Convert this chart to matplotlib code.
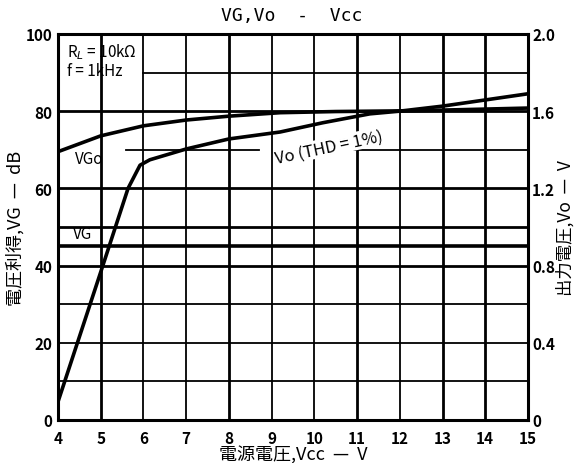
import matplotlib
matplotlib.use("Agg")
import matplotlib.pyplot as plt

plt.rcParams['font.family'] = ['Noto Sans CJK JP', 'DejaVu Sans']

# supply voltage (V) and curves read in dB on the left scale
vcc_vgo = [4.0, 5.0, 6.0, 7.0, 8.0, 9.2, 10.5, 12.3, 13.5, 15.0]
vgo_db = [69.5, 73.6, 76.2, 77.7, 78.7, 79.6, 79.9, 80.1, 80.4, 80.8]

vcc_vo = [4.0, 5.05, 5.64, 5.92, 6.15, 7.0, 8.0, 9.2, 10.2, 11.3, 12.0, 13.0, 14.0, 15.0]
vo_db = [4.7, 40.0, 60.0, 66.0, 67.4, 70.2, 72.8, 74.6, 77.0, 79.3, 80.0, 81.3, 82.9, 84.5]

vg_db = 45.0  # closed-loop gain

x_ticks = list(range(4, 16))
y_ticks = [0, 20, 40, 60, 80, 100]
r_ticks = [0, 0.4, 0.8, 1.2, 1.6, 2.0]
r_labels = ['0', '0.4', '0.8', '1.2', '1.6', '2.0']

fig = plt.figure(figsize=(5.77, 4.64), dpi=100)
ax = fig.add_axes([0.1005, 0.0927, 0.8145, 0.832])
ax.set_xlim(4, 15)
ax.set_ylim(0, 100)

# grid: 1 V by 10 dB
thick_x = {5, 8, 11, 13, 14}
for v in range(5, 15):
    ax.axvline(v, color='black', lw=2.0 if v in thick_x else 1.3, zorder=1)
for d in range(10, 100, 10):
    lw = 2.0 if d in (40, 50, 60, 80) else 1.3
    if d == 70:
        ax.plot([5.6, 8.7], [d, d], color='black', lw=lw, zorder=1)
        ax.plot([10.7, 15], [d, d], color='black', lw=lw, zorder=1)
    elif d == 90:
        ax.plot([6.0, 15], [d, d], color='black', lw=lw, zorder=1)
    else:
        ax.axhline(d, color='black', lw=lw, zorder=1)

ax.axhline(vg_db, color='black', lw=2.6, zorder=2)
ax.plot(vcc_vgo, vgo_db, color='black', lw=2.6, zorder=3)
ax.plot(vcc_vo, vo_db, color='black', lw=2.6, zorder=3)

for s in ax.spines.values():
    s.set_linewidth(2.2)

ax.set_xticks(x_ticks)
ax.set_yticks(y_ticks)
ax.tick_params(axis='x', length=0, labelsize=11, pad=7)
ax.tick_params(axis='y', length=0, labelsize=11, pad=4)
for lab in ax.get_xticklabels() + ax.get_yticklabels():
    lab.set_fontweight('bold')

ax2 = ax.twinx()
ax2.set_ylim(0, 2.0)
ax2.set_yticks(r_ticks)
ax2.set_yticklabels(r_labels, fontweight='bold')
ax2.tick_params(length=0, labelsize=11, pad=3)
for s in ax2.spines.values():
    s.set_visible(False)

ax.set_xlabel('電源電圧,Vcc  —  V', fontsize=13, labelpad=0)
ax.set_ylabel('電圧利得,VG  —  dB', fontsize=13, labelpad=1)
ax2.set_ylabel('出力電圧,Vo  —  V', fontsize=12.5, labelpad=1)

fig.text(0.505, 0.965, 'VG,Vo  -  Vcc', fontsize=13, ha='center', va='center',
         family='DejaVu Sans Mono')

ax.text(4.2, 95.5, 'R$_L$ = 10kΩ', fontsize=11, va='center')
ax.text(4.2, 90.5, 'f = 1kHz', fontsize=11, va='center')
ax.text(4.4, 67.8, 'VGo', fontsize=11, va='center')
ax.text(4.35, 48.2, 'VG', fontsize=11, va='center')
ax.text(10.35, 70.8, 'Vo (THD = 1%)', fontsize=12, ha='center', va='center',
        rotation=12, zorder=4,
        bbox=dict(facecolor='white', edgecolor='none', pad=0.5))

fig.savefig('out.png', dpi=100)
